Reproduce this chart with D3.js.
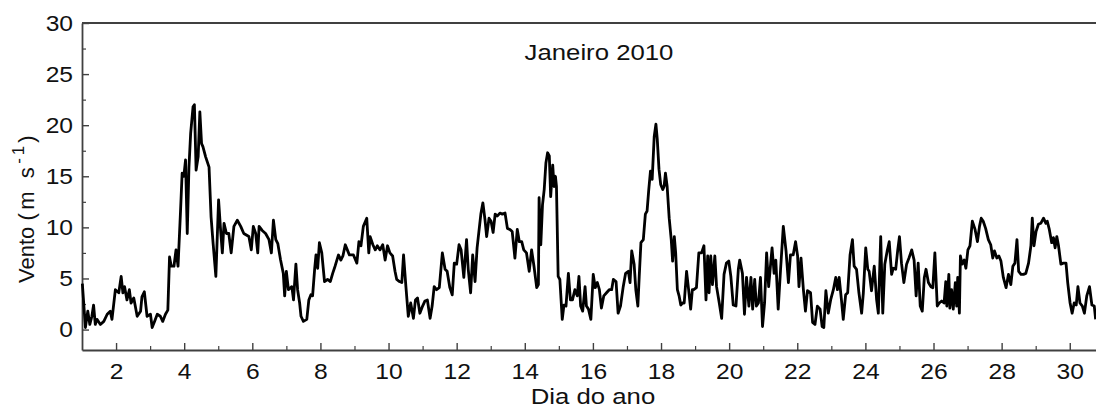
<!DOCTYPE html>
<html>
<head>
<meta charset="utf-8">
<script src="https://cdn.jsdelivr.net/npm/d3@7/dist/d3.min.js"></script>
<style>
  html, body { margin: 0; padding: 0; background: #fff; }
  svg { display: block; }
  text { font-family: "Liberation Sans", Arial, sans-serif; fill: #111; }
</style>
</head>
<body>
<svg id="chart" width="1096" height="408"></svg>
<script>
// Velocidade do vento, janeiro de 2010 (dia do ano x m/s)
const dia = [
  1.01,1.10,1.17,1.23,1.29,1.34,1.39,1.44,1.54,1.64,1.74,1.83,1.88,1.98,2.08,2.15,2.20,2.25,2.32,2.39,
  2.44,2.52,2.62,2.72,2.76,2.83,2.91,3.01,3.06,3.13,3.21,3.30,3.37,3.45,3.52,3.57,3.62,3.70,3.76,3.82,
  3.89,3.94,3.99,4.04,4.09,4.14,4.19,4.26,4.30,4.35,4.41,4.46,4.51,4.55,4.63,4.73,4.79,4.85,4.93,5.01,
  5.07,5.12,5.17,5.24,5.31,5.38,5.46,5.56,5.66,5.75,5.90,5.97,6.03,6.10,6.16,6.20,6.29,6.39,6.49,6.56,
  6.62,6.69,6.75,6.83,6.91,
  6.95,7.00,7.06,7.16,7.21,7.28,7.33,7.39,7.43,7.50,7.60,7.66,7.72,7.77,7.83,7.87,7.92,7.97,8.04,8.12,
  8.21,8.29,8.36,8.43,8.53,8.60,8.66,8.73,8.79,8.85,8.97,9.07,9.13,9.19,9.26,9.36,9.42,9.46,9.54,9.61,
  9.67,9.75,9.83,9.90,9.97,10.04,10.12,10.19,10.24,10.32,10.39,10.44,10.51,10.58,
  10.65,10.73,10.79,10.85,10.92,11.00,11.07,11.14,11.22,11.28,11.34,11.41,11.49,11.58,11.66,11.72,11.80,11.87,11.93,12.00,
  12.07,12.13,12.21,12.29,12.34,12.41,12.47,12.54,12.60,12.66,12.71,12.77,12.83,12.88,12.95,13.01,13.07,13.13,13.19,13.27,
  13.34,13.42,13.49,13.56,13.63,13.71,13.78,13.84,13.91,13.97,14.05,14.13,14.20,14.27,14.35,14.40,14.42,14.47,14.52,14.57,
  14.62,14.67,14.72,14.76,14.82,14.86,14.90,14.93,14.98,15.03,15.10,15.15,15.21,15.28,15.34,15.40,15.47,15.54,15.59,15.64,
  15.70,15.77,15.81,15.87,15.94,16.01,16.07,16.13,16.19,16.25,16.32,16.40,16.48,16.55,16.60,16.68,16.74,16.81,16.89,16.96,
  17.04,17.09,17.14,17.21,17.26,17.32,17.36,17.41,17.48,17.54,17.59,17.64,17.69,17.74,17.80,17.85,17.89,17.94,17.99,18.05,
  18.09,18.13,18.18,18.24,18.30,18.34,18.39,18.43,18.48,18.53,18.58,18.63,18.68,18.75,18.81,18.87,18.92,18.96,19.04,19.11,
  19.19,19.26,19.32,19.37,19.41,19.46,19.51,19.58,19.63,19.71,19.78,19.85,19.92,19.99,20.05,20.12,20.20,20.27,
  20.31,20.39,20.45,20.51,20.58,20.64,20.69,20.75,20.80,20.86,20.92,20.98,21.04,21.10,21.16,21.22,21.26,21.32,21.37,21.44,
  21.51,21.59,21.67,21.74,21.80,21.88,21.95,22.01,22.05,22.11,22.18,22.24,22.30,22.39,22.45,22.52,22.59,22.67,22.73,22.78,
  22.84,22.91,22.98,23.06,23.13,23.18,23.23,23.30,23.35,23.42,23.48,23.55,23.62,23.67,23.74,23.81,23.89,23.94,24.01,24.07,
  24.11,24.18,24.26,24.33,24.38,24.45,24.51,24.57,24.64,24.70,24.77,24.82,24.89,24.95,25.00,25.06,25.13,25.21,25.28,25.36,
  25.43,25.49,25.55,25.61,25.67,25.73,25.78,25.85,25.92,25.98,26.04,26.11,26.17,26.24,26.31,26.36,26.39,26.45,26.48,26.53,
  26.58,26.64,26.68,26.71,26.76,26.79,26.84,26.90,26.95,27.01,27.07,27.14,27.22,27.29,27.35,27.40,27.46,27.53,27.61,27.68,
  27.74,27.79,27.86,27.92,27.98,28.05,28.13,28.20,28.27,28.33,28.39,28.45,28.50,28.57,28.64,28.71,28.79,28.86,28.90,28.95,
  29.01,29.08,29.15,29.23,29.30,29.34,29.40,29.47,29.52,29.57,29.62,29.67,29.74,29.81,29.89,29.94,30.01,30.07,30.13,30.19,
  30.24,30.30,30.37,30.43,30.50,30.58,30.65,30.72,30.76
];
const vento = [
  4.5,0.2,1.8,0.5,1.3,2.4,0.5,1.0,0.5,0.8,1.5,1.8,1.0,3.9,3.6,5.2,3.6,4.2,2.9,3.9,
  2.6,3.1,1.3,1.8,3.2,3.7,1.3,1.5,0.2,0.8,1.5,1.3,0.8,1.5,1.9,7.1,6.2,6.2,7.8,6.2,
  11.4,15.3,15.0,16.6,9.4,15.9,19.2,21.8,22.0,15.6,16.9,21.3,18.2,17.9,16.9,15.9,11.0,8.4,5.2,12.7,
  9.7,7.5,10.4,9.4,9.4,7.5,10.1,10.7,10.1,9.4,9.1,7.8,10.1,9.4,7.5,10.1,9.7,9.4,8.8,7.5,
  10.7,8.8,8.4,6.8,5.5,
  3.3,5.7,3.9,4.2,2.9,6.4,3.9,2.6,1.3,0.8,1.0,2.9,3.4,3.3,5.9,7.3,6.0,8.5,7.5,4.7,
  4.9,4.7,5.5,6.2,7.3,6.8,7.2,8.3,7.8,7.3,7.3,6.5,8.6,8.2,10.1,10.9,7.5,9.1,8.3,7.8,
  8.2,7.8,8.3,6.8,8.2,7.5,7.2,5.7,4.9,4.7,4.6,7.3,4.2,1.3,
  2.6,1.1,2.9,3.1,1.6,2.3,2.8,2.9,1.1,2.3,4.2,3.9,4.1,7.5,5.9,5.7,4.1,3.4,6.5,6.4,
  8.3,7.8,5.1,8.8,5.9,3.6,7.3,4.7,8.0,9.8,11.3,12.4,10.8,9.1,10.9,10.6,9.5,11.3,11.1,11.4,
  11.3,11.4,9.9,9.8,9.6,7.0,9.8,8.6,8.6,7.8,7.5,5.7,7.8,6.2,4.1,4.4,12.9,8.3,12.2,13.7,
  16.3,17.3,17.0,13.0,16.1,14.0,15.0,14.0,5.2,4.9,1.0,2.4,2.3,5.5,2.9,2.9,3.9,3.3,5.2,2.3,
  1.8,4.2,2.3,2.0,1.0,5.4,4.1,4.6,3.9,2.1,3.3,3.6,3.9,3.9,4.9,4.7,1.6,2.3,4.2,5.5,
  5.7,4.6,7.7,6.4,3.9,2.3,5.2,8.5,8.8,11.3,11.6,13.7,15.5,14.7,18.9,20.1,18.6,15.7,14.2,13.7,
  14.0,15.3,14.0,10.9,8.8,6.7,9.1,7.5,3.9,3.3,2.4,2.6,2.6,5.7,3.9,2.0,3.9,3.9,4.1,7.5,
  7.5,8.2,2.9,7.2,3.6,7.2,4.4,7.2,4.2,2.6,1.1,5.4,6.5,6.7,5.2,2.4,2.3,5.9,
  6.8,5.5,1.5,5.1,2.3,5.1,2.0,4.9,2.3,2.6,5.1,0.3,2.6,7.5,4.2,6.5,8.0,5.5,6.8,2.0,
  5.9,10.1,7.7,4.6,7.3,7.3,8.6,7.2,4.2,7.0,3.9,1.8,3.8,3.6,0.7,0.5,2.3,2.0,0.3,0.2,
  3.8,1.6,2.9,3.9,5.1,3.9,5.1,2.8,1.0,3.4,3.6,7.3,8.8,6.2,5.9,3.6,1.6,3.6,8.0,5.9,
  5.7,3.8,6.2,2.9,1.6,9.1,1.6,6.4,7.7,8.6,5.4,6.0,5.9,7.8,9.1,6.5,4.6,6.4,7.0,7.8,
  6.8,3.3,6.5,2.3,1.8,5.1,5.9,4.6,4.2,4.1,7.5,2.3,2.6,2.8,2.6,4.7,2.3,5.4,2.1,3.9,
  2.0,4.6,2.3,5.1,1.6,7.2,6.4,6.8,6.0,7.8,8.2,10.6,9.8,8.6,10.1,10.9,10.6,9.9,8.8,8.3,
  7.0,7.7,7.0,7.2,6.7,5.1,4.1,5.4,4.4,6.2,6.5,8.8,5.7,5.4,5.4,5.5,6.5,8.2,10.9,8.2,
  9.6,10.3,10.4,10.9,10.4,10.6,9.8,8.5,9.0,8.0,9.1,8.2,6.4,6.5,6.5,4.6,2.6,1.6,2.6,2.4,
  4.2,2.6,2.3,1.6,3.3,4.2,2.4,2.3,1.0
];

const xMajor = [2,4,6,8,10,12,14,16,18,20,22,24,26,28,30];
const xMinor = [3,5,7,9,11,13,15,17,19,21,23,25,27,29];
const yMajor = [0,5,10,15,20,25,30];
const yMinor = [2.5,7.5,12.5,17.5,22.5,27.5];
const titulo = "Janeiro 2010";
const rotuloX = "Dia do ano";

const svg = d3.select("#chart");
const plotLeft = 82, plotRight = 1097, plotTop = 23, plotBottom = 350;
const axisColor = "#404040";
const wide = "scale(1.12,1)";   // slightly wide lettering

const x = d3.scaleLinear().domain([1, 30.8]).range([plotLeft, plotRight]);
const y = d3.scaleLinear().domain([-2, 30]).range([plotBottom, plotTop]);

// top frame line
svg.append("line").attr("x1", plotLeft).attr("x2", plotRight).attr("y1", plotTop).attr("y2", plotTop)
  .attr("stroke", axisColor).attr("stroke-width", 1.8);

// x axis (ticks pointing inward)
const gx = svg.append("g").attr("transform", `translate(0,${plotBottom})`)
  .call(d3.axisBottom(x).tickValues(xMajor).tickSizeInner(-7).tickSizeOuter(0).tickPadding(13)
    .tickFormat(d3.format("d")));
gx.selectAll(".tick text").attr("font-size", 22).attr("fill", "#111").attr("transform", wide)
  .attr("font-family", "'Liberation Sans', Arial, sans-serif");
gx.select(".domain").attr("stroke", axisColor).attr("stroke-width", 1.8);
gx.selectAll(".tick line").attr("stroke", axisColor).attr("stroke-width", 1.4);
svg.append("g").attr("transform", `translate(0,${plotBottom})`)
  .call(d3.axisBottom(x).tickValues(xMinor).tickSizeInner(-4).tickSizeOuter(0).tickFormat(""))
  .call(g => g.select(".domain").remove())
  .selectAll(".tick line").attr("stroke", axisColor).attr("stroke-width", 1.2);

// y axis (ticks pointing inward)
const gy = svg.append("g").attr("transform", `translate(${plotLeft},0)`)
  .call(d3.axisLeft(y).tickValues(yMajor).tickSizeInner(-7).tickSizeOuter(0).tickPadding(8)
    .tickFormat(d3.format("d")));
gy.selectAll(".tick text").attr("font-size", 22).attr("fill", "#111").attr("transform", wide)
  .attr("font-family", "'Liberation Sans', Arial, sans-serif");
gy.select(".domain").attr("stroke", axisColor).attr("stroke-width", 1.8);
gy.selectAll(".tick line").attr("stroke", axisColor).attr("stroke-width", 1.4);
svg.append("g").attr("transform", `translate(${plotLeft},0)`)
  .call(d3.axisLeft(y).tickValues(yMinor).tickSizeInner(-4).tickSizeOuter(0).tickFormat(""))
  .call(g => g.select(".domain").remove())
  .selectAll(".tick line").attr("stroke", axisColor).attr("stroke-width", 1.2);

// wind speed series
const serie = dia.map((d, i) => [d, vento[i]]);
svg.append("path")
  .datum(serie)
  .attr("fill", "none")
  .attr("stroke", "#000")
  .attr("stroke-width", 2.8)
  .attr("stroke-linejoin", "round")
  .attr("d", d3.line().x(d => x(d[0])).y(d => y(d[1])));

// title inside the plot
svg.append("text").attr("transform", `translate(599,60) ${wide}`).attr("text-anchor", "middle")
  .attr("font-size", 23).text(titulo);

// axis titles
svg.append("text").attr("transform", `translate(593,404) ${wide}`).attr("text-anchor", "middle")
  .attr("font-size", 23).text(rotuloX);

const yl = svg.append("text")
  .attr("transform", "translate(34,283) rotate(-90)")
  .attr("text-anchor", "start").attr("font-size", 22);
yl.append("tspan").text("Vento ");
yl.append("tspan").attr("letter-spacing", 3.5).text("(m s");
yl.append("tspan").attr("font-size", 17).attr("dy", -10).attr("letter-spacing", 3).text("-1");
yl.append("tspan").attr("dy", 10).text(")");
</script>
</body>
</html>
